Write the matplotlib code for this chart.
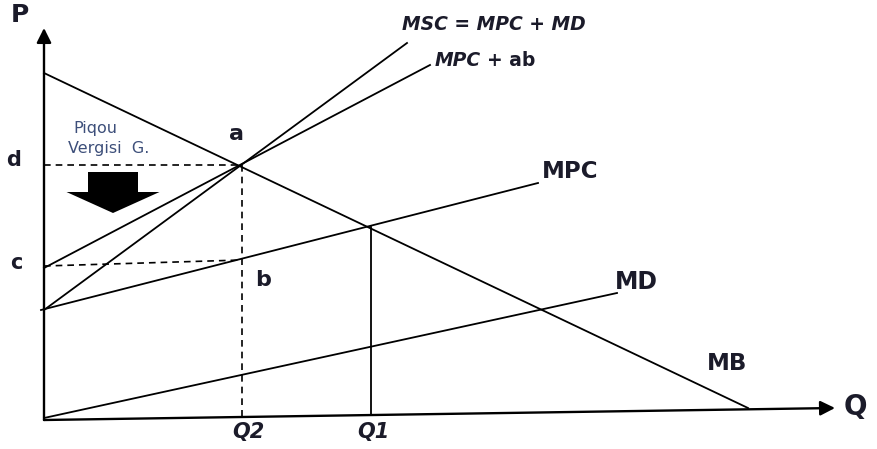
import matplotlib
matplotlib.use('Agg')
import matplotlib.pyplot as plt
from matplotlib.patches import FancyArrow

# ── Curve end points (Q, P) in drawing units, origin at the axes corner ──
mb_q, mb_p = [0, 704], [345, 10]
msc_q, msc_p = [0, 363], [108, 375]
mpcab_q, mpcab_p = [0, 386], [150, 353]
mpc_q, mpc_p = [-3, 494], [108, 235]
md_q, md_p = [0, 573], [0, 125]

# key levels
Q2, Q1 = 198, 327
P_d, P_b, P_c = 253, 158, 152
P_q1 = 191

# axes
xaxis_q, xaxis_p = [0, 791], [-2, 10]
yaxis_q, yaxis_p = [0, 0], [-2, 390]

INK = '#1b1b2a'
FONT = 'DejaVu Sans'

fig = plt.figure(figsize=(8.77, 4.49), dpi=100)
ax = fig.add_axes([0, 0, 1, 1])
ax.set_xlim(-44, 833)
ax.set_ylim(-31, 418)
ax.axis('off')

# axes with arrows
ax.annotate('', xy=(xaxis_q[1], xaxis_p[1]), xytext=(xaxis_q[0], xaxis_p[0]),
            arrowprops=dict(arrowstyle='-|>', lw=1.7, color='black', mutation_scale=22,
                            shrinkA=0, shrinkB=0))
ax.annotate('', xy=(yaxis_q[1], yaxis_p[1]), xytext=(yaxis_q[0], yaxis_p[0]),
            arrowprops=dict(arrowstyle='-|>', lw=1.7, color='black', mutation_scale=22,
                            shrinkA=0, shrinkB=0))

# curves
lw = 1.3
ax.plot(mb_q, mb_p, color='black', lw=lw)
ax.plot(msc_q, msc_p, color='black', lw=lw)
ax.plot(mpcab_q, mpcab_p, color='black', lw=lw)
ax.plot(mpc_q, mpc_p, color='black', lw=lw)
ax.plot(md_q, md_p, color='black', lw=lw)

# guide lines
ax.plot([0, Q2], [P_d, P_d], color='black', lw=1.2, ls=(0, (4, 3)))
ax.plot([0, Q2], [P_c, P_b], color='black', lw=1.2, ls=(0, (4, 3)))
ax.plot([Q2, Q2], [P_d, 0], color='black', lw=1.2, ls=(0, (4, 3)))
ax.plot([Q1, Q1], [P_q1, 3], color='black', lw=1.3)

# tax arrow
ax.add_patch(FancyArrow(69, 246, 0, -41, width=50, head_width=93, head_length=21,
                        length_includes_head=True, color='black', lw=0))

# labels
bold = dict(fontweight='bold', color=INK, family=FONT)
ax.text(-24, 403, 'P', fontsize=18, ha='center', va='center', **bold)
ax.text(811, 11, 'Q', fontsize=20, ha='center', va='center', **bold)
ax.text(-30, P_d + 5, 'd', fontsize=15, ha='center', va='center', **bold)
ax.text(-28, P_c + 3, 'c', fontsize=15, ha='center', va='center', **bold)
ax.text(192, 284, 'a', fontsize=16, ha='center', va='center', **bold)
ax.text(219, 138, 'b', fontsize=16, ha='center', va='center', **bold)
ax.text(Q2 + 6, -14, 'Q2', fontsize=15, style='italic', ha='center', va='center', **bold)
ax.text(Q1 + 2, -14, 'Q1', fontsize=15, style='italic', ha='center', va='center', **bold)

ax.text(29, 290, 'Piqou', fontsize=11.5, color='#3d4f7a', family=FONT, va='center')
ax.text(24, 270, 'Vergisi  G.', fontsize=11.5, color='#3d4f7a', family=FONT, va='center')

ax.text(358, 393, 'MSC = MPC + MD', fontsize=13.5, style='italic', va='center', **bold)
t_mpc = ax.text(391, 358, 'MPC', fontsize=13.5, style='italic', va='center', **bold)
ax.annotate('+ ab', xy=(1, 0.5), xycoords=t_mpc, xytext=(4, 0), textcoords='offset points',
            fontsize=13.5, va='center', **bold)
ax.text(498, 246, 'MPC', fontsize=16.5, va='center', **bold)
ax.text(571, 136, 'MD', fontsize=17, va='center', **bold)
ax.text(663, 55, 'MB', fontsize=16.5, va='center', **bold)

plt.savefig('out.png', dpi=100)
